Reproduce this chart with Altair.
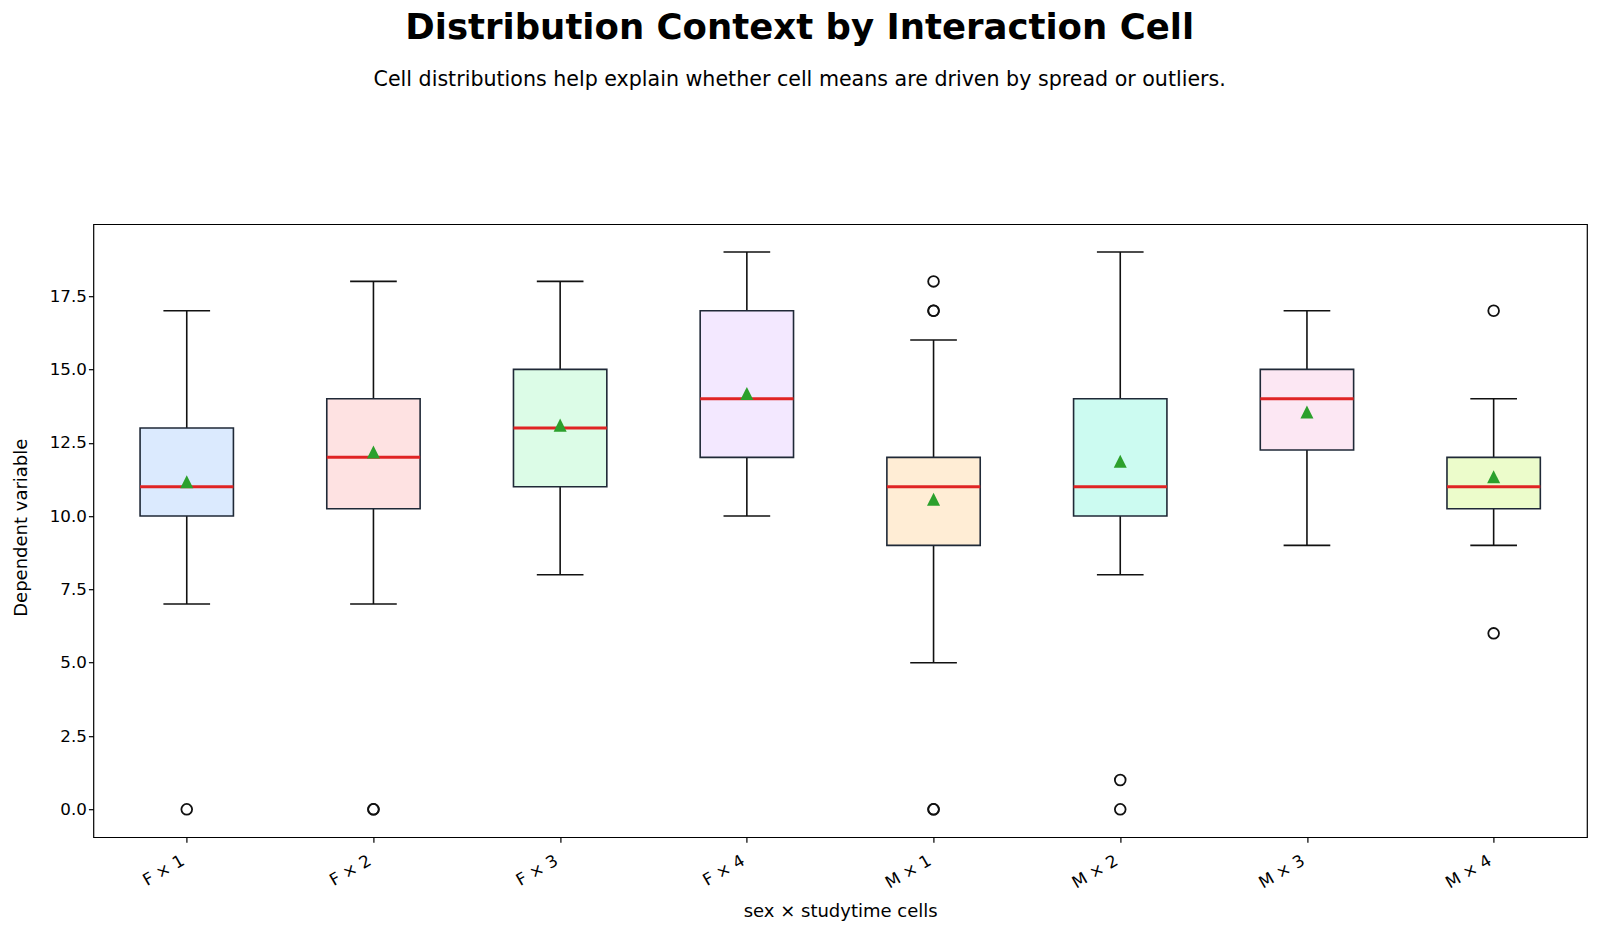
import altair as alt
import pandas as pd

# Summary statistics per sex × studytime cell
cells = ["F × 1", "F × 2", "F × 3", "F × 4", "M × 1", "M × 2", "M × 3", "M × 4"]
q1 = [10, 10.25, 11, 12, 9, 10, 12.25, 10.25]
medians = [11, 12, 13, 14, 11, 11, 14, 11]
q3 = [13, 14, 15, 17, 12, 14, 15, 12]
whisker_lo = [7, 7, 8, 10, 5, 8, 9, 9]
whisker_hi = [17, 18, 18, 19, 16, 19, 17, 14]
means = [11.17, 12.18, 13.10, 14.18, 10.57, 11.87, 13.55, 11.34]
fills = ["#dbeafe", "#fee2e2", "#dcfce7", "#f3e8ff",
         "#ffedd5", "#ccfbf1", "#fce7f3", "#ecfccb"]

# Points beyond the whiskers
outlier_cells = ["F × 1", "F × 2", "F × 2", "M × 1", "M × 1", "M × 1",
                 "M × 1", "M × 1", "M × 2", "M × 2", "M × 4", "M × 4"]
outlier_values = [0, 0, 0, 18, 17, 17, 0, 0, 1, 0, 17, 6]

stats = pd.DataFrame({
    "cell": cells,
    "pos": list(range(1, len(cells) + 1)),
    "q1": q1,
    "median": medians,
    "q3": q3,
    "lo": whisker_lo,
    "hi": whisker_hi,
    "mean": means,
})
outliers = pd.DataFrame({"cell": outlier_cells, "value": outlier_values})
outliers["pos"] = outliers["cell"].map({c: i + 1 for i, c in enumerate(cells)})

FONT = "DejaVu Sans"
label_expr = "[" + ",".join(f"'{c}'" for c in cells) + "][datum.value - 1]"

x_scale = alt.Scale(domain=[0.5, 8.5], nice=False, zero=False)
y_scale = alt.Scale(domain=[-0.95, 19.95], nice=False, zero=False)

x_axis = alt.Axis(
    values=list(range(1, 9)), labelExpr=label_expr, labelAngle=-30,
    labelAlign="right", labelBaseline="top", labelPadding=10, labelOffset=-8,
    title="sex × studytime cells", titleY=79, titleBaseline="alphabetic",
)
y_axis = alt.Axis(
    values=[0, 2.5, 5, 7.5, 10, 12.5, 15, 17.5], format=".1f",
    title="Dependent variable", titleX=-72, titleY=303,
    titleBaseline="middle", titleAngle=-90,
)


def xq(field):
    return alt.X(field, type="quantitative", scale=x_scale, axis=x_axis)


def yq(field):
    return alt.Y(field, type="quantitative", scale=y_scale, axis=y_axis)


base = alt.Chart(stats).transform_calculate(
    box_l="datum.pos - 0.25", box_r="datum.pos + 0.25",
    cap_l="datum.pos - 0.125", cap_r="datum.pos + 0.125",
)

whisker_low = base.mark_rule(color="#111111", strokeWidth=1.6).encode(
    x=xq("pos"), y=yq("lo"), y2="q1:Q")
whisker_high = base.mark_rule(color="#111111", strokeWidth=1.6).encode(
    x=xq("pos"), y=yq("q3"), y2="hi:Q")
cap_low = base.mark_rule(color="#111111", strokeWidth=1.6).encode(
    x=xq("cap_l"), x2="cap_r:Q", y=yq("lo"))
cap_high = base.mark_rule(color="#111111", strokeWidth=1.6).encode(
    x=xq("cap_l"), x2="cap_r:Q", y=yq("hi"))

boxes = base.mark_rect(stroke="#1f2937", strokeWidth=1.6).encode(
    x=xq("box_l"), x2="box_r:Q", y=yq("q1"), y2="q3:Q",
    fill=alt.Fill("cell:N", scale=alt.Scale(domain=cells, range=fills), legend=None),
)
median_lines = base.mark_rule(color="#e02424", strokeWidth=3).encode(
    x=xq("box_l"), x2="box_r:Q", y=yq("median"))
mean_marks = base.mark_point(
    shape="M0,-1L-1,1L1,1Z", filled=True, size=170, color="#2ca02c", opacity=1,
).encode(x=xq("pos"), y=yq("mean"))

outlier_marks = alt.Chart(outliers).mark_point(
    shape="circle", filled=False, size=115, color="#111111", strokeWidth=1.8, opacity=1,
).encode(x=xq("pos"), y=yq("value"))

chart = alt.layer(
    whisker_low, whisker_high, cap_low, cap_high, boxes, median_lines,
    mean_marks, outlier_marks,
).properties(
    width=1493.6,
    height=613,
    background="white",
    autosize=alt.AutoSizeParams(type="none"),
    padding={"left": 93.4, "top": 224.2, "right": 13, "bottom": 95.8},
    title=alt.TitleParams(
        text="Distribution Context by Interaction Cell",
        subtitle="Cell distributions help explain whether cell means are driven by spread or outliers.",
        font=FONT, fontSize=35.5, fontWeight="bold", color="#000000",
        subtitleFont=FONT, subtitleFontSize=20.6, subtitleColor="#000000",
        subtitlePadding=23, anchor="middle", frame="bounds", offset=134,
    ),
).configure_view(
    stroke="#000000", strokeWidth=1.2,
).configure_axis(
    domain=False, grid=False,
    labelFont=FONT, labelFontSize=16.7, labelColor="#000000",
    titleFont=FONT, titleFontSize=18, titleFontWeight="normal", titleColor="#000000",
    tickColor="#000000", tickSize=5, tickWidth=1.2,
)

chart.save("out.html", embed_options={"renderer": "svg", "actions": False})
